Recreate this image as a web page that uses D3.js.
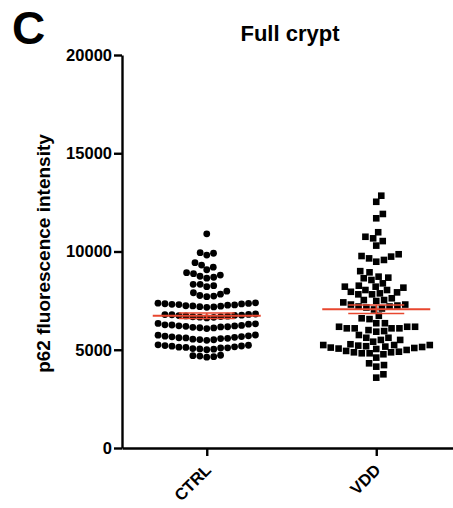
<!DOCTYPE html>
<html>
<head>
<meta charset="utf-8">
<script src="https://cdn.jsdelivr.net/npm/d3@7"></script>
<style>
  html, body { margin: 0; padding: 0; background: #fff; }
  svg { display: block; }
  text { font-family: "Liberation Sans", Arial, Helvetica, sans-serif; font-weight: bold; fill: #000; }
</style>
</head>
<body>
<svg id="chart" width="453" height="508"></svg>
<script>
// Groups shown on the x axis
const groups = ["CTRL", "VDD"];

// p62 fluorescence intensity per crypt, control group
const ctrlValues = [
  10900, 9820, 9940, 9910, 9310, 9430, 9200, 9070, 8920, 8800, 8870, 8740,
  8690, 8640, 8330, 8210, 8260, 8330,
  7980, 7830, 7730, 7700, 7760, 7900,
  7160, 7190, 7180, 7220, 7240, 7230, 7270, 7280, 7300, 7310, 7330, 7340, 7360, 7370, 7390,
  6620, 6650, 6660, 6680, 6690, 6710, 6720, 6740, 6750, 6760, 6780, 6790, 6800, 6820,
  6080, 6110, 6120, 6140, 6160, 6170, 6190, 6210, 6220, 6240, 6260, 6270, 6300, 6320, 6340,
  5480, 5510, 5520, 5540, 5570, 5580, 5600, 5610, 5630, 5660, 5670, 5690, 5710, 5740, 5750,
  5000, 5030, 5040, 5060, 5090, 5100, 5120, 5130, 5150, 5180, 5190, 5210, 5230, 5250,
  4620, 4650, 4680, 4700, 4720
];

// p62 fluorescence intensity per crypt, VDD group
const vddValues = [
  12840, 12530, 11910, 11690, 10980, 10750, 10530, 10670, 10300,
  9770, 9650, 9480, 9570, 9740, 9860, 9000, 8940,
  8720, 8640, 8550, 8670, 8380, 8210, 8210, 8040, 7920,
  7820, 7820, 7870, 7950, 8040, 8160, 8260,
  7620, 7530, 7410, 7480, 7530,
  7300, 7250, 7200, 7150, 7100, 7050, 7200, 7300,
  6600, 6560, 6730,
  6350, 6170, 5920, 6090, 6090, 6000, 6090, 6090, 5950, 6170, 6170, 6350,
  5610, 5500, 5280, 5410, 5500, 5610, 5750,
  5240, 5210, 5160, 5110, 5040, 4940, 4820, 4600, 4770, 4820,
  4870, 4870, 4900, 4990, 5060, 5090, 5140, 5180, 5240, 5240,
  4220, 4140, 4310, 3580, 3750
];

// Y axis tick values
const yTicks = [0, 5000, 10000, 15000, 20000];

const series = [
  { name: groups[0], values: ctrlValues, shape: "circle", spacing: 7.0 },
  { name: groups[1], values: vddValues, shape: "square", spacing: 7.9 }
];

const svg = d3.select("#chart");
const W = 453, H = 508;
const margin = { left: 122, top: 55, bottom: 60 };

const y = d3.scaleLinear().domain([0, 20000]).range([H - margin.bottom, margin.top]);
const x = d3.scalePoint().domain(groups).range([margin.left, 461]).padding(0.5);

// Axes
const yAxis = svg.append("g")
  .attr("transform", `translate(${margin.left},0)`)
  .call(d3.axisLeft(y).tickValues(yTicks).tickFormat(d3.format("d")).tickSize(8).tickPadding(2).tickSizeOuter(0));
const xAxis = svg.append("g")
  .attr("transform", `translate(0,${y(0)})`)
  .call(d3.axisBottom(x).tickSize(8).tickSizeOuter(0).tickPadding(2));

[yAxis, xAxis].forEach(g => {
  g.select(".domain").attr("stroke", "#000").attr("stroke-width", 2.4);
  g.selectAll(".tick line").attr("stroke", "#000").attr("stroke-width", 2.4);
  g.selectAll(".tick text").attr("font-size", 16.5).attr("fill", "#000");
});

xAxis.selectAll(".tick text")
  .attr("text-anchor", "end")
  .attr("dy", null)
  .attr("transform", "translate(5,23) rotate(-45)")
  .attr("y", 0).attr("x", 0);

// Greedy beeswarm: points taken from low to high value, each placed at the
// horizontal offset closest to the group centre that does not overlap
function swarm(values, diam) {
  const pts = values.map(v => ({ v, y: y(v), x: 0 })).sort((a, b) => a.v - b.v);
  const placed = [];
  for (const p of pts) {
    const near = placed.filter(q => Math.abs(q.y - p.y) < diam);
    const cands = [0];
    for (const q of near) {
      const dx = Math.sqrt(diam * diam - (q.y - p.y) ** 2);
      cands.push(q.x + dx, q.x - dx);
    }
    cands.sort((a, b) => Math.abs(a) - Math.abs(b) || b - a);
    for (const c of cands) {
      if (near.every(q => (q.x - c) ** 2 + (q.y - p.y) ** 2 >= diam * diam - 1e-6)) { p.x = c; break; }
    }
    placed.push(p);
  }
  return pts;
}

const red = "#e8472f";

series.forEach(s => {
  const cx = x(s.name);
  const g = svg.append("g");
  const pts = swarm(s.values, s.spacing);
  if (s.shape === "circle") {
    g.selectAll("circle").data(pts).join("circle")
      .attr("cx", d => cx + d.x).attr("cy", d => d.y).attr("r", 3.4).attr("fill", "#000");
  } else {
    const side = 6.6;
    g.selectAll("rect").data(pts).join("rect")
      .attr("x", d => cx + d.x - side / 2).attr("y", d => d.y - side / 2)
      .attr("width", side).attr("height", side).attr("fill", "#000");
  }

  // Mean with standard error of the mean
  const mean = d3.mean(s.values);
  const sem = d3.deviation(s.values) / Math.sqrt(s.values.length);
  const m = svg.append("g").attr("stroke", red).attr("fill", "none");
  m.append("line").attr("x1", cx - 54).attr("x2", cx + 54)
    .attr("y1", y(mean)).attr("y2", y(mean)).attr("stroke-width", 2);
  m.append("line").attr("x1", cx).attr("x2", cx)
    .attr("y1", y(mean - sem)).attr("y2", y(mean + sem)).attr("stroke-width", 1.5);
  [mean - sem, mean + sem].forEach(v => {
    m.append("line").attr("x1", cx - 28).attr("x2", cx + 28)
      .attr("y1", y(v)).attr("y2", y(v)).attr("stroke-width", 1.5);
  });
});

// Titles
svg.append("text").attr("x", 12).attr("y", 44).attr("font-size", 46).text("C");
svg.append("text").attr("x", 290).attr("y", 41).attr("text-anchor", "middle")
  .attr("font-size", 22).text("Full crypt");
svg.append("text")
  .attr("transform", `translate(50,${(y(0) + y(20000)) / 2 + 2}) rotate(-90)`)
  .attr("text-anchor", "middle").attr("font-size", 19)
  .text("p62 fluorescence intensity");
</script>
</body>
</html>
